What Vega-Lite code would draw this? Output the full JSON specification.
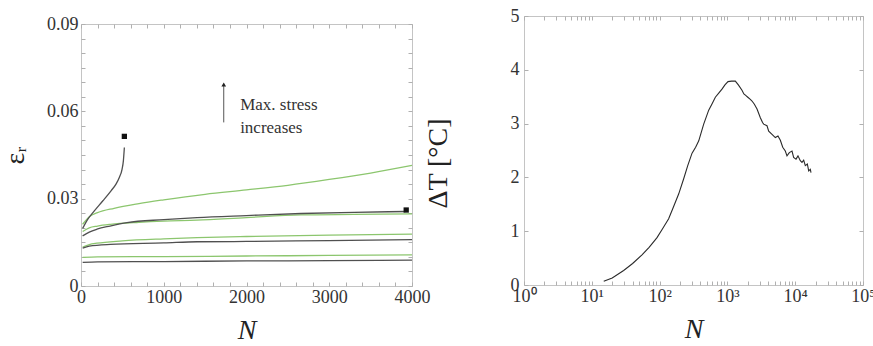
{
  "$schema": "https://vega.github.io/schema/vega-lite/v6.json",
  "background": "white",
  "padding": {"left": 0, "top": 6, "right": 0, "bottom": 0},
  "spacing": -8,
  "config": {
    "font": "Liberation Serif, Times New Roman, serif",
    "view": {"stroke": "#c4c4c4", "strokeWidth": 1},
    "text": {"font": "Liberation Serif, Times New Roman, serif"},
    "axis": {
      "grid": false, "domain": false, "tickColor": "#b0b0b0", "tickSize": -4,
      "labelColor": "#333", "labelFont": "Liberation Serif, Times New Roman, serif", "labelFontSize": 18,
      "titleFont": "Liberation Serif, Times New Roman, serif", "titleFontWeight": "normal", "titleColor": "#222",
      "titleFontSize": 28, "labelOverlap": false, "labelFlush": false, "labelBound": false
    }
  },
  "datasets": {
    "left": [
      {"s": "G1", "k": "g", "N": 20, "e": 0.0212}, {"s": "G1", "k": "g", "N": 100, "e": 0.0238}, {"s": "G1", "k": "g", "N": 200, "e": 0.0252}, {"s": "G1", "k": "g", "N": 400, "e": 0.0267}, {"s": "G1", "k": "g", "N": 700, "e": 0.0283}, {"s": "G1", "k": "g", "N": 1000, "e": 0.0296}, {"s": "G1", "k": "g", "N": 1500, "e": 0.0315}, {"s": "G1", "k": "g", "N": 2000, "e": 0.0330}, {"s": "G1", "k": "g", "N": 2500, "e": 0.0346}, {"s": "G1", "k": "g", "N": 3000, "e": 0.0366}, {"s": "G1", "k": "g", "N": 3500, "e": 0.0388}, {"s": "G1", "k": "g", "N": 4000, "e": 0.0414},
      {"s": "D1", "k": "d", "N": 20, "e": 0.0198}, {"s": "D1", "k": "d", "N": 81, "e": 0.0229}, {"s": "D1", "k": "d", "N": 161, "e": 0.0258}, {"s": "D1", "k": "d", "N": 262, "e": 0.0292}, {"s": "D1", "k": "d", "N": 363, "e": 0.0327}, {"s": "D1", "k": "d", "N": 423, "e": 0.0350}, {"s": "D1", "k": "d", "N": 463, "e": 0.0373}, {"s": "D1", "k": "d", "N": 496, "e": 0.0401}, {"s": "D1", "k": "d", "N": 512, "e": 0.0430}, {"s": "D1", "k": "d", "N": 524, "e": 0.0476},
      {"s": "G2", "k": "g", "N": 20, "e": 0.0187}, {"s": "G2", "k": "g", "N": 100, "e": 0.0200}, {"s": "G2", "k": "g", "N": 200, "e": 0.0206}, {"s": "G2", "k": "g", "N": 355, "e": 0.0212}, {"s": "G2", "k": "g", "N": 700, "e": 0.0219}, {"s": "G2", "k": "g", "N": 1000, "e": 0.0223}, {"s": "G2", "k": "g", "N": 1400, "e": 0.0226}, {"s": "G2", "k": "g", "N": 2000, "e": 0.0235}, {"s": "G2", "k": "g", "N": 2660, "e": 0.0244}, {"s": "G2", "k": "g", "N": 3300, "e": 0.0246}, {"s": "G2", "k": "g", "N": 4000, "e": 0.0248},
      {"s": "D2", "k": "d", "N": 20, "e": 0.0172}, {"s": "D2", "k": "d", "N": 100, "e": 0.0185}, {"s": "D2", "k": "d", "N": 193, "e": 0.0195}, {"s": "D2", "k": "d", "N": 350, "e": 0.0206}, {"s": "D2", "k": "d", "N": 556, "e": 0.0218}, {"s": "D2", "k": "d", "N": 1000, "e": 0.0228}, {"s": "D2", "k": "d", "N": 1403, "e": 0.0235}, {"s": "D2", "k": "d", "N": 2000, "e": 0.0242}, {"s": "D2", "k": "d", "N": 2660, "e": 0.0249}, {"s": "D2", "k": "d", "N": 3300, "e": 0.0253}, {"s": "D2", "k": "d", "N": 3920, "e": 0.0256},
      {"s": "G3", "k": "g", "N": 20, "e": 0.0134}, {"s": "G3", "k": "g", "N": 100, "e": 0.0142}, {"s": "G3", "k": "g", "N": 193, "e": 0.0147}, {"s": "G3", "k": "g", "N": 500, "e": 0.0155}, {"s": "G3", "k": "g", "N": 1000, "e": 0.0162}, {"s": "G3", "k": "g", "N": 1403, "e": 0.0166}, {"s": "G3", "k": "g", "N": 2000, "e": 0.0170}, {"s": "G3", "k": "g", "N": 3000, "e": 0.0175}, {"s": "G3", "k": "g", "N": 4000, "e": 0.0178},
      {"s": "D3", "k": "d", "N": 20, "e": 0.0130}, {"s": "D3", "k": "d", "N": 100, "e": 0.0137}, {"s": "D3", "k": "d", "N": 355, "e": 0.0143}, {"s": "D3", "k": "d", "N": 1000, "e": 0.0148}, {"s": "D3", "k": "d", "N": 1403, "e": 0.0152}, {"s": "D3", "k": "d", "N": 2000, "e": 0.0153}, {"s": "D3", "k": "d", "N": 3000, "e": 0.0156}, {"s": "D3", "k": "d", "N": 4000, "e": 0.0159},
      {"s": "G4", "k": "g", "N": 20, "e": 0.0098}, {"s": "G4", "k": "g", "N": 200, "e": 0.0100}, {"s": "G4", "k": "g", "N": 1000, "e": 0.0101}, {"s": "G4", "k": "g", "N": 2000, "e": 0.0103}, {"s": "G4", "k": "g", "N": 3000, "e": 0.0105}, {"s": "G4", "k": "g", "N": 4000, "e": 0.0107},
      {"s": "D4", "k": "d", "N": 20, "e": 0.0081}, {"s": "D4", "k": "d", "N": 200, "e": 0.0083}, {"s": "D4", "k": "d", "N": 1000, "e": 0.0084}, {"s": "D4", "k": "d", "N": 2000, "e": 0.0086}, {"s": "D4", "k": "d", "N": 3000, "e": 0.0087}, {"s": "D4", "k": "d", "N": 4000, "e": 0.0089}
    ],
    "right": [
      {"N": 15, "T": 0.07}, {"N": 20, "T": 0.13}, {"N": 29.5, "T": 0.27}, {"N": 40, "T": 0.40}, {"N": 55, "T": 0.56}, {"N": 70, "T": 0.70}, {"N": 91.6, "T": 0.88}, {"N": 110, "T": 1.04}, {"N": 136, "T": 1.23}, {"N": 160, "T": 1.45}, {"N": 191, "T": 1.69}, {"N": 226, "T": 1.97}, {"N": 260, "T": 2.22}, {"N": 301, "T": 2.45}, {"N": 340, "T": 2.56}, {"N": 378, "T": 2.68}, {"N": 447, "T": 2.99}, {"N": 530, "T": 3.25}, {"N": 600, "T": 3.38}, {"N": 664, "T": 3.49}, {"N": 750, "T": 3.57}, {"N": 832, "T": 3.64}, {"N": 920, "T": 3.72}, {"N": 1021, "T": 3.78}, {"N": 1150, "T": 3.79}, {"N": 1309, "T": 3.79}, {"N": 1450, "T": 3.72}, {"N": 1641, "T": 3.62}, {"N": 1750, "T": 3.55}, {"N": 1879, "T": 3.52}, {"N": 2000, "T": 3.49}, {"N": 2178, "T": 3.45}, {"N": 2307, "T": 3.42}, {"N": 2500, "T": 3.36}, {"N": 2735, "T": 3.27}, {"N": 3062, "T": 3.11}, {"N": 3300, "T": 3.02}, {"N": 3428, "T": 2.99}, {"N": 3837, "T": 2.96}, {"N": 4064, "T": 2.86}, {"N": 4550, "T": 2.80}, {"N": 5093, "T": 2.74}, {"N": 5572, "T": 2.77}, {"N": 6039, "T": 2.69}, {"N": 6546, "T": 2.56}, {"N": 7145, "T": 2.49}, {"N": 7568, "T": 2.40}, {"N": 8185, "T": 2.46}, {"N": 8974, "T": 2.49}, {"N": 9484, "T": 2.37}, {"N": 10280, "T": 2.34}, {"N": 10990, "T": 2.40}, {"N": 11890, "T": 2.31}, {"N": 12590, "T": 2.28}, {"N": 13340, "T": 2.32}, {"N": 14090, "T": 2.22}, {"N": 15100, "T": 2.25}, {"N": 15810, "T": 2.12}, {"N": 16710, "T": 2.15}, {"N": 17100, "T": 2.09}
    ]
  },
  "hconcat": [
    {
      "bounds": "flush",
      "spacing": 7,
      "vconcat": [
        {
          "width": 331,
          "height": 1,
          "view": {"stroke": null},
          "data": {"values": [{"a": 0}]},
          "mark": {"type": "point", "opacity": 0},
          "encoding": {}
        },
        {
          "width": 331,
          "height": 262,
          "resolve": {"axis": {"x": "independent", "y": "independent"}},
          "layer": [
            {
              "data": {"name": "left"},
              "mark": {"type": "line", "interpolate": "monotone", "strokeWidth": 1.3},
              "encoding": {
                "x": {"field": "N", "type": "quantitative", "scale": {"domain": [0, 4000], "nice": false},
                  "axis": {"orient": "bottom", "values": [0,200,400,600,800,1000,1200,1400,1600,1800,2000,2200,2400,2600,2800,3000,3200,3400,3600,3800,4000],
                    "labelExpr": "datum.value % 1000 == 0 ? '' + datum.value : ''", "labelPadding": 6, "title": "N", "titleFontStyle": "italic", "titlePadding": 10}},
                "y": {"field": "e", "type": "quantitative", "scale": {"domain": [0, 0.09], "nice": false},
                  "axis": {"orient": "left", "values": [0,0.005,0.01,0.015,0.02,0.025,0.03,0.035,0.04,0.045,0.05,0.055,0.06,0.065,0.07,0.075,0.08,0.085,0.09],
                    "labelExpr": "round(datum.value*1000) % 30 == 0 ? (datum.value == 0 ? '0' : format(datum.value, '.2f')) : ''",
                    "labelPadding": 7, "title": "εᵣ", "titleX": -52, "titleY": 131, "titleAlign": "center", "titleBaseline": "bottom"}},
                "color": {"field": "k", "type": "nominal", "scale": {"domain": ["g", "d"], "range": ["#8cc66e", "#505050"]}, "legend": null},
                "detail": {"field": "s"}
              }
            },
            {
              "data": {"name": "left"},
              "mark": {"type": "line", "opacity": 0},
              "encoding": {
                "x": {"field": "N", "type": "quantitative",
                  "axis": {"orient": "top", "values": [0,200,400,600,800,1000,1200,1400,1600,1800,2000,2200,2400,2600,2800,3000,3200,3400,3600,3800,4000], "labels": false, "title": null}},
                "y": {"field": "e", "type": "quantitative",
                  "axis": {"orient": "right", "values": [0,0.005,0.01,0.015,0.02,0.025,0.03,0.035,0.04,0.045,0.05,0.055,0.06,0.065,0.07,0.075,0.08,0.085,0.09], "labels": false, "title": null}},
                "detail": {"field": "s"}
              }
            },
            {
              "data": {"values": [{"N": 524, "e": 0.0514}, {"N": 3930, "e": 0.0261}]},
              "mark": {"type": "point", "shape": "square", "filled": true, "size": 28, "color": "#111", "opacity": 1},
              "encoding": {
                "x": {"field": "N", "type": "quantitative", "axis": null},
                "y": {"field": "e", "type": "quantitative", "axis": null}
              }
            },
            {
              "data": {"values": [{"N": 1725, "e": 0.0562, "e2": 0.0688}]},
              "mark": {"type": "rule", "color": "#555", "strokeWidth": 1},
              "encoding": {
                "x": {"field": "N", "type": "quantitative", "axis": null},
                "y": {"field": "e", "type": "quantitative", "axis": null},
                "y2": {"field": "e2"}
              }
            },
            {
              "data": {"values": [{"N": 1725, "e": 0.0692}]},
              "mark": {"type": "point", "shape": "triangle-up", "filled": true, "size": 22, "color": "#222", "opacity": 1},
              "encoding": {
                "x": {"field": "N", "type": "quantitative", "axis": null},
                "y": {"field": "e", "type": "quantitative", "axis": null}
              }
            },
            {
              "data": {"values": [{"N": 1923, "e": 0.0604, "t": "Max. stress"}, {"N": 1923, "e": 0.0527, "t": "increases"}]},
              "mark": {"type": "text", "align": "left", "baseline": "alphabetic", "fontSize": 17, "color": "#333", "font": "Liberation Serif, Times New Roman, serif"},
              "encoding": {
                "x": {"field": "N", "type": "quantitative", "axis": null},
                "y": {"field": "e", "type": "quantitative", "axis": null},
                "text": {"field": "t"}
              }
            }
          ]
        }
      ]
    },
    {
      "width": 339,
      "height": 269,
      "resolve": {"axis": {"x": "independent", "y": "independent"}},
      "layer": [
        {
          "data": {"name": "right"},
          "mark": {"type": "line", "strokeWidth": 1.1, "color": "#2a2a2a"},
          "encoding": {
            "x": {"field": "N", "type": "quantitative", "scale": {"type": "log", "domain": [1, 100000], "nice": false},
              "axis": {"orient": "bottom", "values": [1,2,3,4,5,6,7,8,9,10,20,30,40,50,60,70,80,90,100,200,300,400,500,600,700,800,900,1000,2000,3000,4000,5000,6000,7000,8000,9000,10000,20000,30000,40000,50000,60000,70000,80000,90000,100000],
                "labelExpr": "abs(log(datum.value)/LN10 - round(log(datum.value)/LN10)) < 0.000001 ? '10' + ['⁰','¹','²','³','⁴','⁵'][round(log(datum.value)/LN10)] : ''",
                "labelPadding": 6, "title": "N", "titleFontStyle": "italic", "titlePadding": 10}},
            "y": {"field": "T", "type": "quantitative", "scale": {"domain": [0, 5], "nice": false},
              "axis": {"orient": "left", "values": [0,1,2,3,4,5], "labelPadding": 9, "title": "ΔT [°C]", "titleX": -72, "titleY": 147, "titleAlign": "center", "titleBaseline": "bottom"}}
          }
        },
        {
          "data": {"name": "right"},
          "mark": {"type": "line", "opacity": 0},
          "encoding": {
            "x": {"field": "N", "type": "quantitative",
              "axis": {"orient": "top", "values": [1,2,3,4,5,6,7,8,9,10,20,30,40,50,60,70,80,90,100,200,300,400,500,600,700,800,900,1000,2000,3000,4000,5000,6000,7000,8000,9000,10000,20000,30000,40000,50000,60000,70000,80000,90000,100000], "labels": false, "title": null}},
            "y": {"field": "T", "type": "quantitative",
              "axis": {"orient": "right", "values": [0,1,2,3,4,5], "labels": false, "title": null}}
          }
        }
      ]
    }
  ]
}
